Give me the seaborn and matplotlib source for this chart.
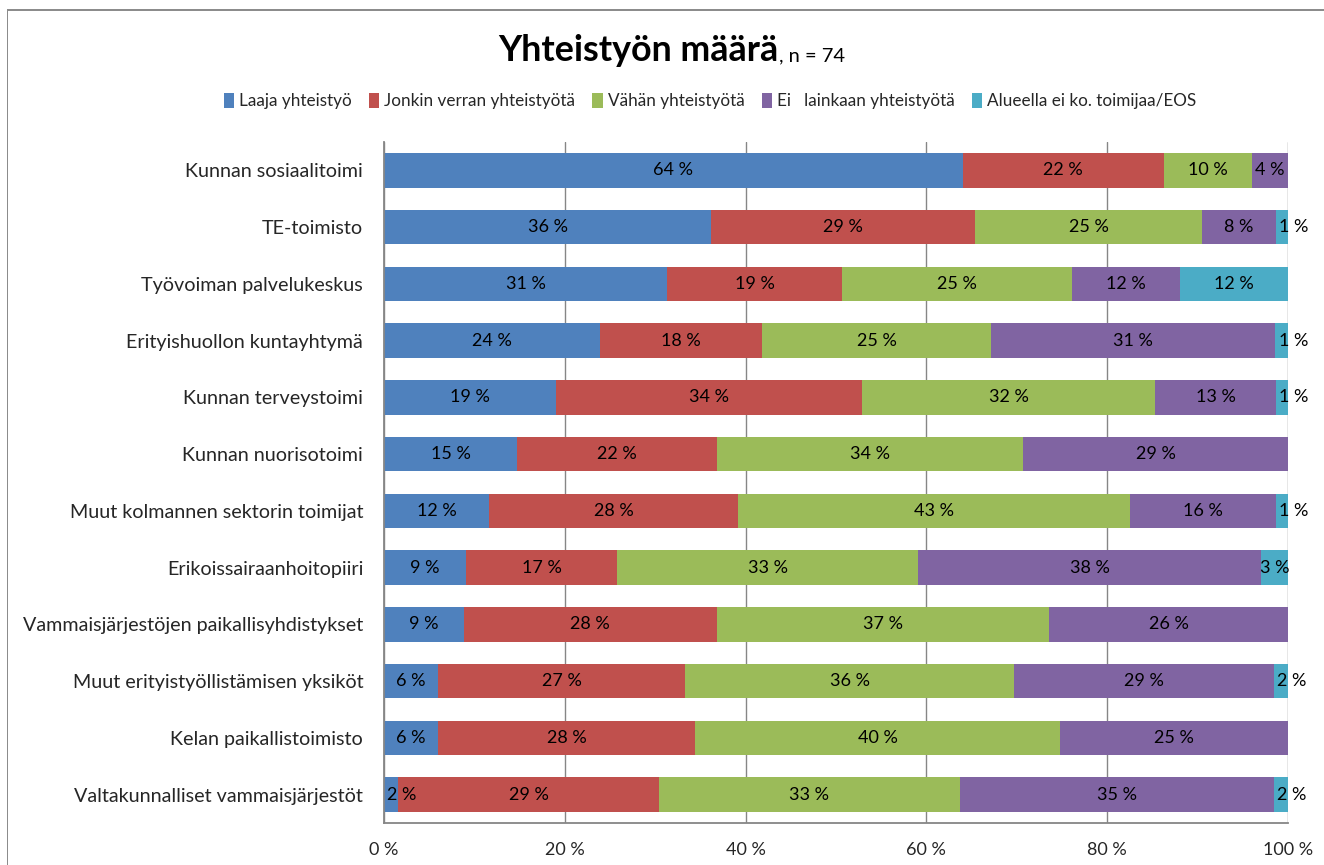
import numpy as np
import pandas as pd
import matplotlib
matplotlib.use("Agg")
import matplotlib.pyplot as plt
import seaborn as sns
from matplotlib.patches import Patch, Rectangle

categories = [
    "Kunnan sosiaalitoimi",
    "TE-toimisto",
    "Työvoiman palvelukeskus",
    "Erityishuollon kuntayhtymä",
    "Kunnan terveystoimi",
    "Kunnan nuorisotoimi",
    "Muut kolmannen sektorin toimijat",
    "Erikoissairaanhoitopiiri",
    "Vammaisjärjestöjen paikallisyhdistykset",
    "Muut erityistyöllistämisen yksiköt",
    "Kelan paikallistoimisto",
    "Valtakunnalliset vammaisjärjestöt",
]
series_names = [
    "Laaja yhteistyö",
    "Jonkin verran yhteistyötä",
    "Vähän yhteistyötä",
    "Ei   lainkaan yhteistyötä",
    "Alueella ei ko. toimijaa/EOS",
]
laaja = [64.0, 36.2, 31.3, 23.9, 19.0, 14.7, 11.6, 9.1, 8.8, 6.0, 6.0, 1.6]
jonkin = [22.3, 29.2, 19.4, 17.9, 33.9, 22.1, 27.6, 16.7, 28.0, 27.3, 28.4, 28.8]
vahan = [9.7, 25.1, 25.4, 25.4, 32.4, 33.9, 43.3, 33.3, 36.8, 36.4, 40.4, 33.3]
ei_lainkaan = [4.0, 8.2, 12.0, 31.4, 13.4, 29.3, 16.2, 37.9, 26.4, 28.7, 25.2, 34.7]
eos = [0.0, 1.3, 11.9, 1.4, 1.3, 0.0, 1.3, 3.0, 0.0, 1.6, 0.0, 1.6]
xtick_values = [0, 20, 40, 60, 80, 100]
xtick_labels = ["0 %", "20 %", "40 %", "60 %", "80 %", "100 %"]
title_main = "Yhteistyön määrä"
title_sub = ", n = 74"

colors = ["#4F81BD", "#C0504D", "#9BBB59", "#8064A2", "#4BACC6"]

sns.set_theme(style="white")
plt.rcParams["font.family"] = ["Lato", "DejaVu Sans"]

values = np.array([laaja, jonkin, vahan, ei_lainkaan, eos])
cum = np.cumsum(values, axis=0)

df = pd.DataFrame({"category": categories})
for i, name in enumerate(series_names):
    df[name] = values[i]
    df["cum_" + str(i)] = cum[i]

W, H = 1324, 865
fig = plt.figure(figsize=(W / 100, H / 100), dpi=100)
ax = fig.add_axes([384 / W, 1 - 823 / H, (1288 - 384) / W, 681 / H])

for i in reversed(range(len(series_names))):
    sns.barplot(data=df, x="cum_" + str(i), y="category", orient="h",
                color=colors[i], saturation=1, width=0.61, ax=ax,
                linewidth=0, order=categories)

LABEL_FS = 13
for i in range(len(series_names)):
    for r in range(len(categories)):
        v = values[i, r]
        if v <= 0:
            continue
        left = cum[i, r] - v
        if v < 2.9:
            ax.text(left + 0.35, r, f"{v:.0f} %", ha="left", va="center",
                    fontsize=LABEL_FS, color="black")
        else:
            ax.text(left + v / 2, r, f"{v:.0f} %", ha="center", va="center",
                    fontsize=LABEL_FS, color="black")

ax.set_xlim(0, 100)
ax.set_ylim(len(categories) - 0.5, -0.5)
ax.set_xticks(xtick_values)
ax.set_xticklabels(xtick_labels, fontsize=13)
ax.set_yticks(range(len(categories)))
ax.set_yticklabels(categories, fontsize=14.2)
ax.set_yticks(np.arange(-0.5, len(categories), 1.0), minor=True)
ax.tick_params(axis="y", which="major", length=0, pad=15)
ax.tick_params(axis="y", which="minor", length=4, width=1, color="#868686", direction="out")
ax.tick_params(axis="x", which="major", length=4, width=1, color="#868686", direction="out", pad=10)
ax.set_xlabel("")
ax.set_ylabel("")
ax.set_axisbelow(True)
ax.grid(axis="x", color="#868686", linewidth=1.0)
ax.grid(axis="y", visible=False)
for s in ["top", "right"]:
    ax.spines[s].set_visible(False)
for s in ["left", "bottom"]:
    ax.spines[s].set_color("#868686")
    ax.spines[s].set_linewidth(1.3)

# legend
handles = [Patch(facecolor=c, edgecolor="none") for c in colors]
fig.legend(handles, series_names, loc="center", bbox_to_anchor=(710 / W, 1 - 101 / H),
           ncol=5, frameon=False, fontsize=12.3, handlelength=0.6, handleheight=1.0,
           handletextpad=0.3, columnspacing=1.0, borderaxespad=0)

# title
fig.text(778 / W, 1 - 61 / H, title_main, ha="right", va="baseline",
         fontsize=25.8, fontweight="bold", color="black")
fig.text(779 / W, 1 - 61 / H, title_sub, ha="left", va="baseline",
         fontsize=14.5, color="black")

# chart border: thin filled strips along the top and left edges
fig.add_artist(Rectangle((6.5 / W, 1 - 10.5 / H), (W - 6.5) / W, 2 / H,
                         transform=fig.transFigure, facecolor="#8c8c8c",
                         edgecolor="none", linewidth=0))
fig.add_artist(Rectangle((6.5 / W, 0), 1.5 / W, 1 - 9 / H,
                         transform=fig.transFigure, facecolor="#8c8c8c",
                         edgecolor="none", linewidth=0))

fig.savefig("out.png", dpi=100, facecolor="white")
